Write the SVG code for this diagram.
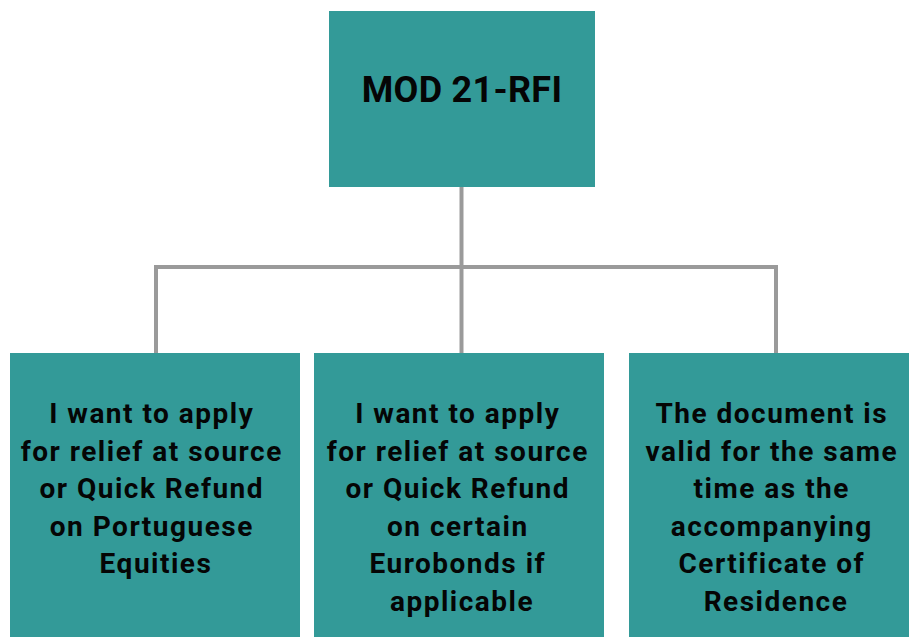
<svg xmlns="http://www.w3.org/2000/svg" width="909" height="637" viewBox="0 0 909 637">
  <style>
    .box { fill: #339a98; }
    .link { fill: none; stroke: #9a9a9a; stroke-width: 4; stroke-linejoin: miter; stroke-linecap: square; }
    .label { font-family: Roboto, "Liberation Sans", sans-serif; font-weight: bold; fill: #050505; text-anchor: middle; }
    .title { font-size: 36px; letter-spacing: 0.3px; }
    .body { font-size: 28px; letter-spacing: 1.5px; }
  </style>
  <rect width="909" height="637" fill="#ffffff"/>

  <g id="connectors">
    <path class="link" d="M461.5 187 V267"/>
    <path class="link" d="M156 353 V267 H776 V353"/>
    <path class="link" d="M461.5 267 V353"/>
  </g>

  <g id="node-mod21">
    <rect class="box" x="329" y="11" width="266" height="176"/>
    <text class="label title" x="462" y="102">MOD 21-RFI</text>
  </g>

  <g id="node-equities">
    <rect class="box" x="10" y="353" width="290" height="284"/>
    <text class="label body" x="156">
      <tspan x="156" y="423">I want to apply</tspan>
      <tspan x="156" y="460.5">for relief at source</tspan>
      <tspan x="156" y="498">or Quick Refund</tspan>
      <tspan x="156" y="535.5">on Portuguese</tspan>
      <tspan x="156" y="573">Equities</tspan>
    </text>
  </g>

  <g id="node-eurobonds">
    <rect class="box" x="314" y="353" width="290" height="284"/>
    <text class="label body" x="462">
      <tspan x="462" y="423">I want to apply</tspan>
      <tspan x="462" y="460.5">for relief at source</tspan>
      <tspan x="462" y="498">or Quick Refund</tspan>
      <tspan x="462" y="535.5">on certain</tspan>
      <tspan x="462" y="573">Eurobonds if</tspan>
      <tspan x="462" y="610.5">applicable</tspan>
    </text>
  </g>

  <g id="node-validity">
    <rect class="box" x="629" y="353" width="280" height="284"/>
    <text class="label body" x="776">
      <tspan x="776" y="423">The document is</tspan>
      <tspan x="776" y="460.5">valid for the same</tspan>
      <tspan x="776" y="498">time as the</tspan>
      <tspan x="776" y="535.5">accompanying</tspan>
      <tspan x="776" y="573">Certificate of</tspan>
      <tspan x="776" y="610.5">Residence</tspan>
    </text>
  </g>
</svg>
